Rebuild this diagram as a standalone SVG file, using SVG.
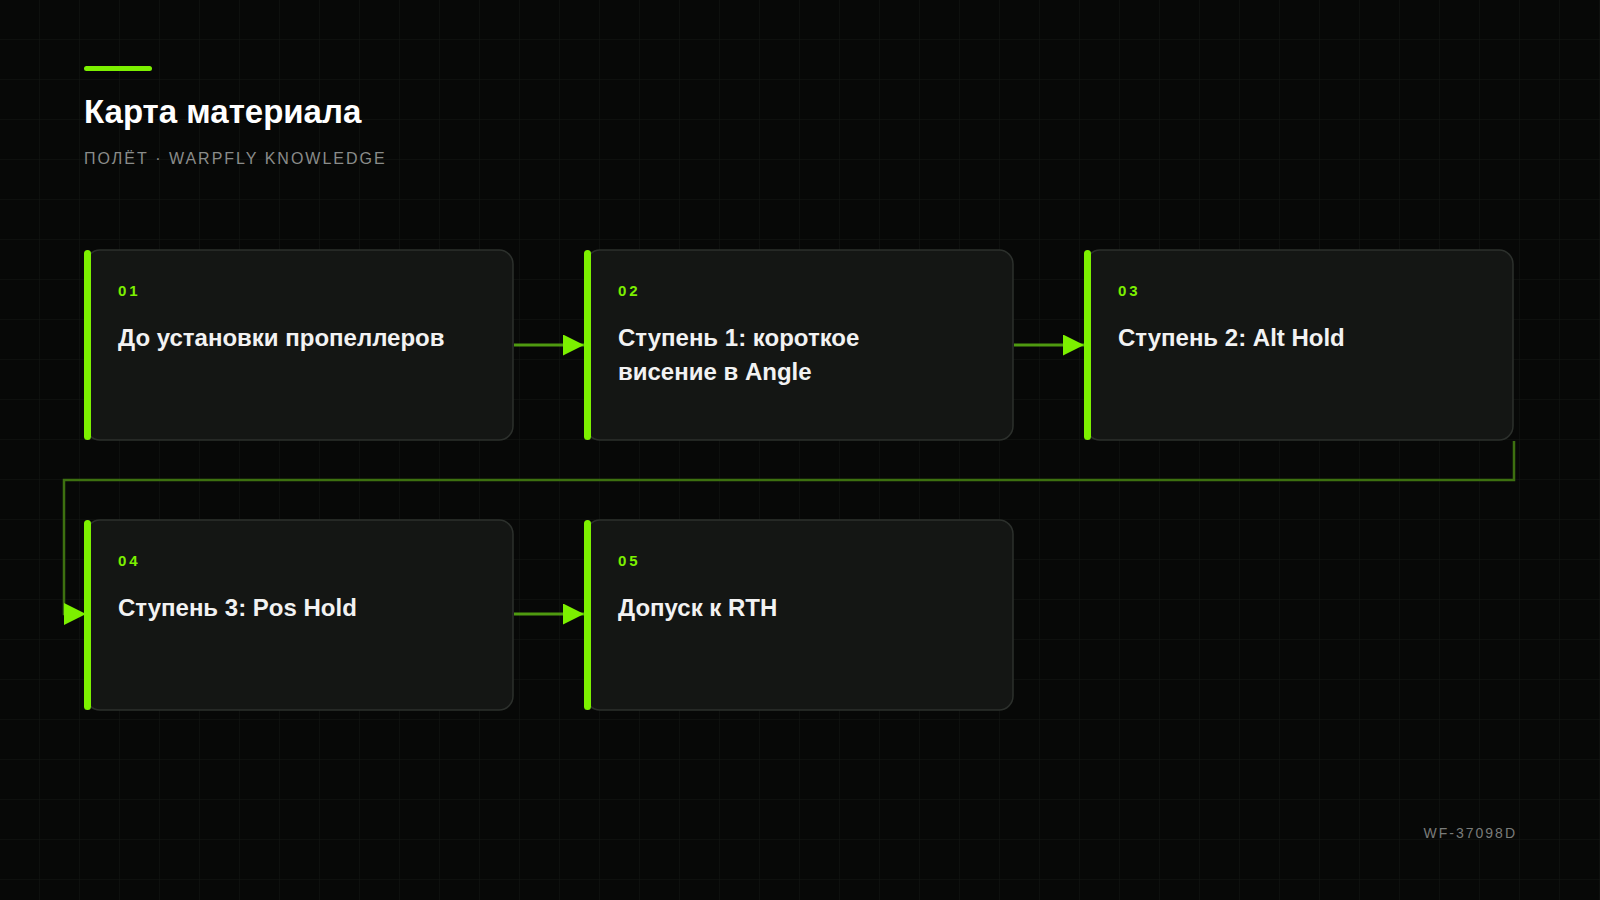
<svg xmlns="http://www.w3.org/2000/svg" width="1600" height="900" viewBox="0 0 1600 900">
<defs>
<pattern id="grid" width="40" height="40" patternUnits="userSpaceOnUse"><path d="M40 0V40H0" fill="none" stroke="#141814" stroke-width="1"/></pattern>
<marker id="ah" viewBox="0 0 10 10" refX="10" refY="5" markerWidth="7" markerHeight="7" markerUnits="strokeWidth" orient="auto"><path d="M0 0L10 5L0 10Z" fill="#7cf000"/></marker>
</defs>
<style>
.card{fill:#141614;stroke:#2c302c;stroke-width:1.5}
.bar{fill:#7cf000}
.num{font-family:"Liberation Sans",Arial,sans-serif;font-size:15px;font-weight:bold;fill:#7cf000;letter-spacing:3px}
.ttl{font-family:"Liberation Sans",Arial,sans-serif;font-size:24px;font-weight:bold;fill:#f2f2f2}
.c{fill:none;stroke:#4f9a10;stroke-width:3}
.w{fill:none;stroke:#3d7010;stroke-width:2.5}
</style>
<rect width="1600" height="900" fill="#070807"/>
<rect width="1600" height="900" fill="url(#grid)"/>
<rect x="84" y="66" width="68" height="5" rx="2.5" fill="#7cf000"/>
<text x="84" y="123" font-family="Liberation Sans,Arial,sans-serif" font-size="33" font-weight="bold" fill="#ffffff">Карта материала</text>
<text x="84" y="164" font-family="Liberation Sans,Arial,sans-serif" font-size="16" fill="#8a8c8a" letter-spacing="2">ПОЛЁТ · WARPFLY KNOWLEDGE</text>
<g id="connectors">
<path class="c" d="M514 345H584" marker-end="url(#ah)"/>
<path class="c" d="M1014 345H1084" marker-end="url(#ah)"/>
<path class="w" d="M1514 441V480H64V614H72"/>
<path d="M64 603L86 614L64 625Z" fill="#7cf000"/>
<path class="c" d="M514 614H584" marker-end="url(#ah)"/>
</g>
<g id="n1"><rect class="card" x="86" y="250" width="427" height="190" rx="14"/><rect class="bar" x="84" y="250" width="7" height="190" rx="3.5"/><text class="num" x="118" y="296">01</text><text class="ttl" x="118" y="346">До установки пропеллеров</text></g>
<g id="n2"><rect class="card" x="586" y="250" width="427" height="190" rx="14"/><rect class="bar" x="584" y="250" width="7" height="190" rx="3.5"/><text class="num" x="618" y="296">02</text><text class="ttl" x="618" y="346">Ступень 1: короткое</text><text class="ttl" x="618" y="380">висение в Angle</text></g>
<g id="n3"><rect class="card" x="1086" y="250" width="427" height="190" rx="14"/><rect class="bar" x="1084" y="250" width="7" height="190" rx="3.5"/><text class="num" x="1118" y="296">03</text><text class="ttl" x="1118" y="346">Ступень 2: Alt Hold</text></g>
<g id="n4"><rect class="card" x="86" y="520" width="427" height="190" rx="14"/><rect class="bar" x="84" y="520" width="7" height="190" rx="3.5"/><text class="num" x="118" y="566">04</text><text class="ttl" x="118" y="616">Ступень 3: Pos Hold</text></g>
<g id="n5"><rect class="card" x="586" y="520" width="427" height="190" rx="14"/><rect class="bar" x="584" y="520" width="7" height="190" rx="3.5"/><text class="num" x="618" y="566">05</text><text class="ttl" x="618" y="616">Допуск к RTH</text></g>
<text x="1517" y="838" text-anchor="end" font-family="Liberation Sans,Arial,sans-serif" font-size="14" fill="#7a7c7a" letter-spacing="2">WF-37098D</text>
</svg>
